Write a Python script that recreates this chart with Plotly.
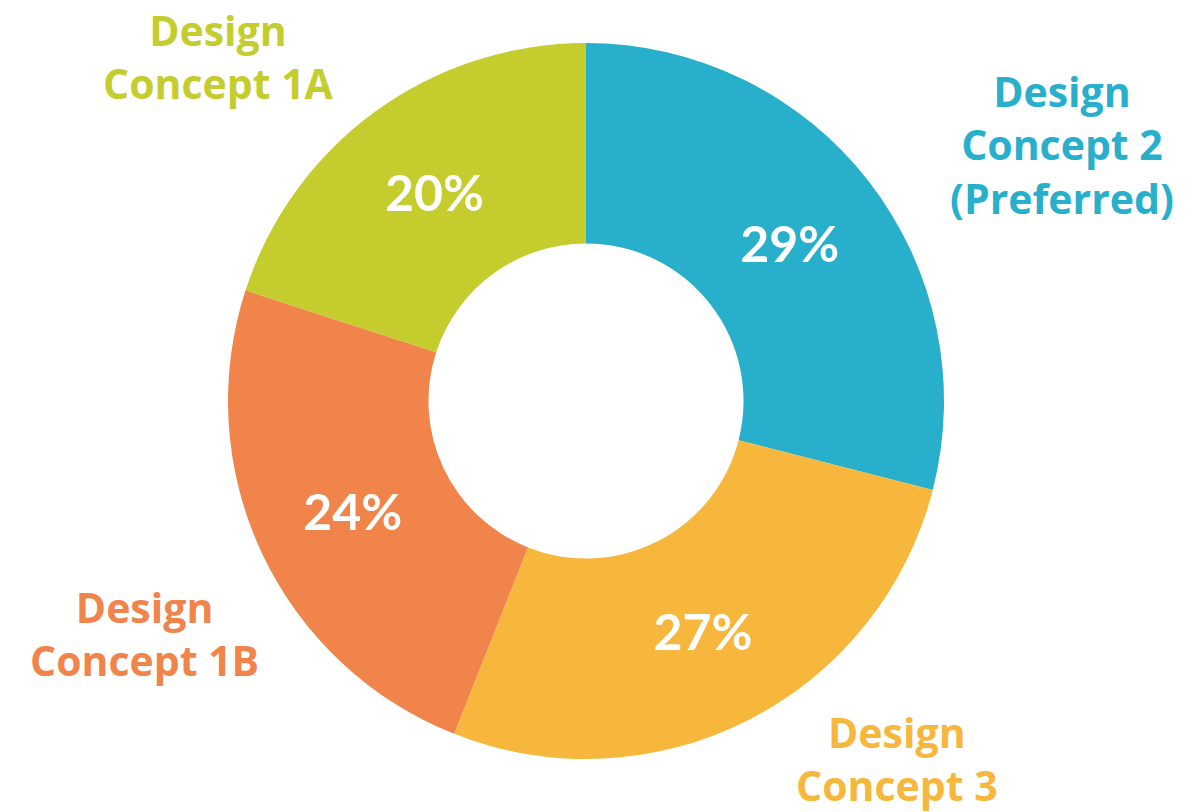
import plotly.graph_objects as go

labels = ["Design Concept 2 (Preferred)", "Design Concept 3", "Design Concept 1B", "Design Concept 1A"]
values = [29, 27, 24, 20]
colors = ["#27AFCB", "#F6B73C", "#F0844B", "#C4CD2D"]
label_texts = ["Design<br>Concept 2<br>(Preferred)", "Design<br>Concept 3", "Design<br>Concept 1B", "Design<br>Concept 1A"]
# label centres in pixels (x, y from top)
label_pos = [(1062, 144), (897, 758), (144, 633), (218, 57)]

W, H = 1196, 812
cx, cy, r = 586, 401, 358

fig = go.Figure(go.Pie(
    labels=labels, values=values, sort=False, direction="clockwise", rotation=0,
    hole=0.44,
    marker=dict(colors=colors, line=dict(width=0)),
    texttemplate="%{value}%", textposition="inside", insidetextorientation="horizontal",
    textfont=dict(family="Lato", size=50, color="white", weight="bold"),
    domain=dict(x=[(cx - r) / W, (cx + r) / W], y=[(H - cy - r) / H, (H - cy + r) / H]),
    showlegend=False, hoverinfo="label+percent",
))

for t, (x, y), c in zip(label_texts, label_pos, colors):
    fig.add_annotation(text=t, x=x / W, y=1 - y / H, xref="paper", yref="paper",
                       xanchor="center", yanchor="middle", showarrow=False, align="center",
                       font=dict(family="Open Sans", size=41, color=c, weight="bold"))

fig.update_layout(width=W, height=H, margin=dict(l=0, r=0, t=0, b=0),
                  paper_bgcolor="white", plot_bgcolor="white")
fig.write_html("out.html")
